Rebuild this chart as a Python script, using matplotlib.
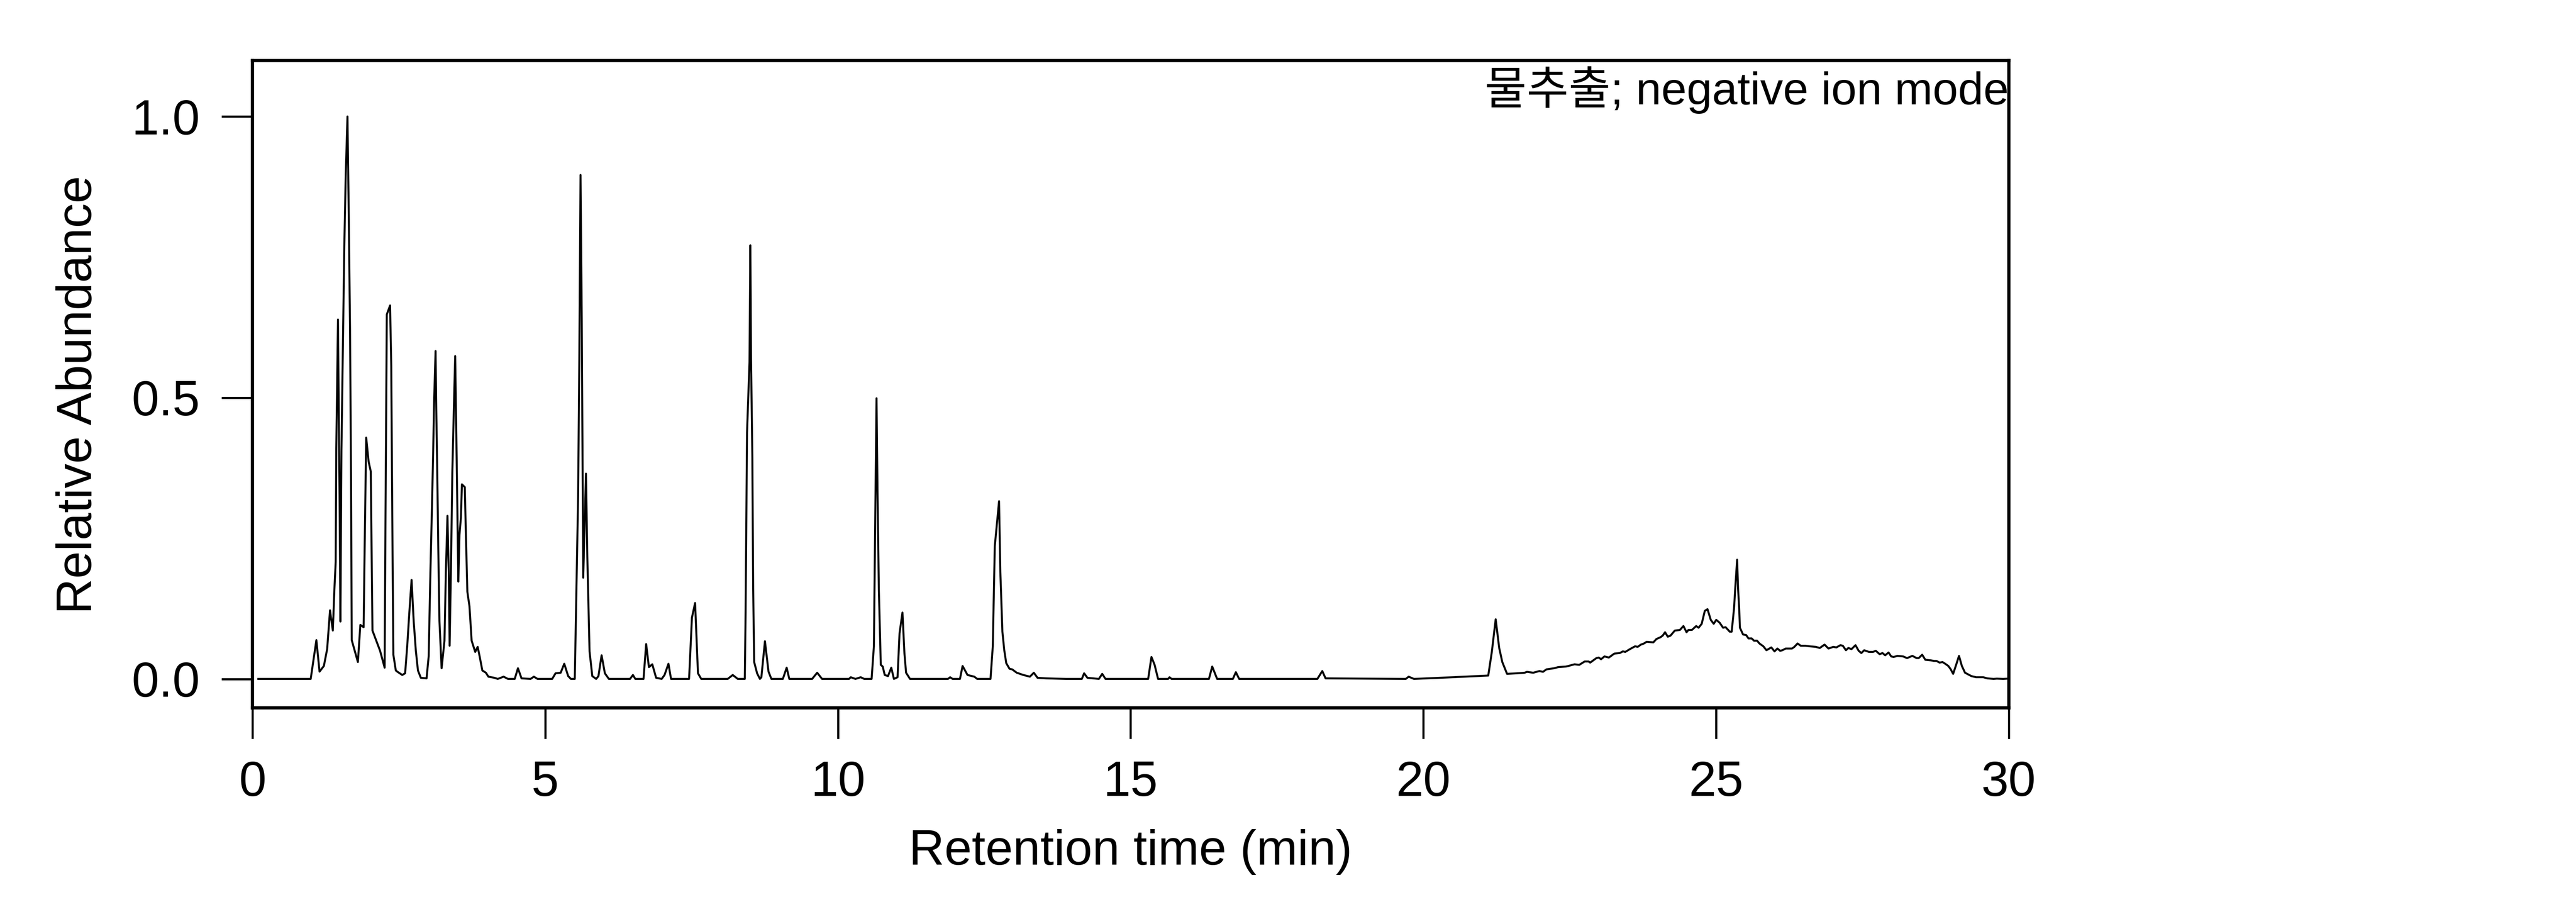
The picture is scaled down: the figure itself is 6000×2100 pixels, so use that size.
import numpy as np
import matplotlib
matplotlib.use("Agg")
import matplotlib.pyplot as plt

plt.rcParams['font.family'] = ['Liberation Sans', 'Noto Sans CJK KR', 'DejaVu Sans']

# retention time (min), relative abundance
trace_0_4 = [
    (0.10, 0.0), (0.995, 0.0), (1.092, 0.069), (1.146, 0.013), (1.22, 0.023),
    (1.276, 0.053), (1.325, 0.122), (1.373, 0.086), (1.40, 0.16), (1.422, 0.208),
    (1.432, 0.408), (1.461, 0.639), (1.479, 0.418), (1.488, 0.326), (1.503, 0.102),
    (1.52, 0.407), (1.545, 0.591), (1.569, 0.769), (1.593, 0.894), (1.623, 1.0),
    (1.642, 0.852), (1.667, 0.622), (1.684, 0.359), (1.696, 0.069), (1.801, 0.030),
    (1.843, 0.096), (1.899, 0.092), (1.916, 0.228), (1.943, 0.429), (1.985, 0.386),
    (2.021, 0.369), (2.05, 0.086), (2.18, 0.050), (2.258, 0.020), (2.273, 0.293),
    (2.295, 0.648), (2.351, 0.664), (2.371, 0.556), (2.393, 0.227), (2.407, 0.043),
    (2.449, 0.015), (2.473, 0.013), (2.559, 0.007), (2.608, 0.010), (2.644, 0.059),
    (2.681, 0.120), (2.718, 0.176), (2.754, 0.103), (2.791, 0.050), (2.827, 0.015),
    (2.876, 0.002), (2.974, 0.001), (3.011, 0.041), (3.035, 0.168), (3.06, 0.278),
    (3.084, 0.388), (3.104, 0.497), (3.128, 0.583), (3.14, 0.479), (3.157, 0.366),
    (3.174, 0.234), (3.194, 0.103), (3.231, 0.019), (3.28, 0.068), (3.304, 0.190),
    (3.331, 0.290), (3.353, 0.190), (3.368, 0.059), (3.39, 0.190), (3.414, 0.366),
    (3.439, 0.475), (3.463, 0.574), (3.48, 0.454), (3.50, 0.300), (3.517, 0.173),
    (3.536, 0.256), (3.561, 0.287), (3.578, 0.346), (3.627, 0.341), (3.646, 0.256),
    (3.671, 0.155), (3.707, 0.129), (3.744, 0.068), (3.805, 0.048), (3.847, 0.057),
    (3.879, 0.041), (3.927, 0.015), (3.988, 0.011),
]

trace_4_10 = [
    (4.03, 0.004), (4.133, 0.002), (4.19, 0.0), (4.29, 0.004), (4.365, 0.0),
    (4.48, 0.0), (4.535, 0.019), (4.596, 0.001), (4.75, 0.0), (4.807, 0.004),
    (4.87, 0.0), (5.12, 0.0), (5.177, 0.010), (5.265, 0.011), (5.326, 0.027),
    (5.393, 0.005), (5.44, 0.0), (5.506, 0.0), (5.563, 0.326), (5.584, 0.58),
    (5.604, 0.896), (5.625, 0.64), (5.65, 0.18), (5.697, 0.365), (5.72, 0.217),
    (5.758, 0.049), (5.805, 0.005), (5.871, 0.0), (5.91, 0.005), (5.964, 0.042),
    (6.02, 0.01), (6.088, 0.0), (6.45, 0.0), (6.499, 0.007), (6.54, 0.0),
    (6.68, 0.0), (6.725, 0.062), (6.772, 0.021), (6.83, 0.026), (6.895, 0.002),
    (6.99, 0.0), (7.039, 0.007), (7.106, 0.027), (7.15, 0.0), (7.458, 0.0),
    (7.507, 0.109), (7.561, 0.135), (7.61, 0.010), (7.666, 0.0), (8.118, 0.0),
    (8.204, 0.007), (8.29, 0.0), (8.41, 0.0), (8.424, 0.122), (8.448, 0.438),
    (8.49, 0.563), (8.505, 0.771), (8.517, 0.569), (8.539, 0.392), (8.553, 0.161),
    (8.57, 0.030), (8.62, 0.010), (8.668, 0.0), (8.693, 0.003), (8.754, 0.067),
    (8.815, 0.013), (8.864, 0.0), (9.06, 0.0), (9.125, 0.020), (9.17, 0.0),
    (9.56, 0.0), (9.646, 0.011), (9.73, 0.0),
]

trace_10_20 = [
    (10.19, 0.0), (10.22, 0.003), (10.30, 0.0), (10.39, 0.003), (10.45, 0.0),
    (10.576, 0.0), (10.615, 0.058), (10.643, 0.328), (10.66, 0.499), (10.677, 0.334),
    (10.70, 0.157), (10.733, 0.025), (10.766, 0.022), (10.80, 0.007), (10.856, 0.005),
    (10.912, 0.020), (10.957, 0.0), (11.019, 0.003), (11.053, 0.081), (11.103, 0.118),
    (11.137, 0.045), (11.165, 0.011), (11.232, 0.0), (11.88, 0.0), (11.917, 0.003),
    (11.96, 0.0), (12.085, 0.0), (12.13, 0.023), (12.214, 0.007), (12.33, 0.004),
    (12.38, 0.0), (12.607, 0.0), (12.646, 0.058), (12.68, 0.236), (12.753, 0.316),
    (12.775, 0.19), (12.81, 0.084), (12.842, 0.051), (12.876, 0.028), (12.932, 0.018),
    (12.977, 0.017), (13.055, 0.011), (13.168, 0.007), (13.28, 0.004), (13.347, 0.011),
    (13.41, 0.002), (13.56, 0.001), (13.897, 0.0), (14.167, 0.0), (14.206, 0.010),
    (14.262, 0.002), (14.458, 0.0), (14.515, 0.009), (14.571, 0.0), (15.30, 0.0),
    (15.356, 0.039), (15.41, 0.025), (15.469, 0.0), (15.64, 0.0), (15.665, 0.003),
    (15.70, 0.0), (16.338, 0.0), (16.394, 0.022), (16.478, 0.0), (16.747, 0.0),
    (16.798, 0.012), (16.854, 0.0), (18.19, 0.0), (18.274, 0.014), (18.33, 0.001),
    (19.70, 0.0), (19.75, 0.004), (19.84, 0.0),
]

trace_20_30 = [
    (20.5, 0.003), (21.109, 0.006), (21.17, 0.048), (21.236, 0.106), (21.296, 0.055),
    (21.349, 0.030), (21.43, 0.009), (21.6, 0.010), (21.73, 0.011), (21.77, 0.0126),
    (21.877, 0.011), (21.983, 0.014), (22.044, 0.0126), (22.103, 0.017), (22.236, 0.019),
    (22.303, 0.021), (22.436, 0.022), (22.476, 0.023), (22.583, 0.026), (22.663, 0.025),
    (22.756, 0.031), (22.823, 0.031), (22.85, 0.029), (22.956, 0.037), (22.996, 0.038),
    (23.036, 0.035), (23.094, 0.040), (23.169, 0.038), (23.262, 0.045), (23.356, 0.046),
    (23.409, 0.049), (23.449, 0.048), (23.529, 0.053), (23.617, 0.058), (23.662, 0.057),
    (23.716, 0.061), (23.769, 0.063), (23.814, 0.066), (23.929, 0.065), (23.982, 0.071),
    (24.049, 0.074), (24.089, 0.077), (24.129, 0.083), (24.176, 0.075), (24.222, 0.077),
    (24.296, 0.086), (24.382, 0.087), (24.443, 0.094), (24.496, 0.083), (24.528, 0.087),
    (24.587, 0.087), (24.661, 0.094), (24.702, 0.091), (24.755, 0.098), (24.808, 0.121),
    (24.854, 0.124), (24.91, 0.105), (24.96, 0.098), (25.003, 0.105), (25.061, 0.100),
    (25.12, 0.091), (25.163, 0.092), (25.234, 0.084), (25.267, 0.084), (25.307, 0.125),
    (25.328, 0.161), (25.36, 0.212), (25.376, 0.161), (25.394, 0.128), (25.408, 0.091),
    (25.461, 0.079), (25.514, 0.078), (25.554, 0.072), (25.608, 0.072), (25.648, 0.068),
    (25.701, 0.068), (25.741, 0.063), (25.808, 0.058), (25.861, 0.051), (25.944, 0.056),
    (25.999, 0.049), (26.048, 0.054), (26.094, 0.050), (26.134, 0.051), (26.189, 0.054),
    (26.297, 0.054), (26.338, 0.057), (26.392, 0.063), (26.446, 0.059), (26.528, 0.059),
    (26.595, 0.058), (26.704, 0.057), (26.772, 0.055), (26.853, 0.061), (26.921, 0.054),
    (27.002, 0.057), (27.056, 0.056), (27.124, 0.060), (27.165, 0.059), (27.219, 0.051),
    (27.26, 0.055), (27.314, 0.053), (27.382, 0.060), (27.436, 0.050), (27.482, 0.046),
    (27.531, 0.051), (27.612, 0.048), (27.68, 0.048), (27.729, 0.050), (27.794, 0.044),
    (27.843, 0.046), (27.889, 0.042), (27.946, 0.047), (27.992, 0.040), (28.033, 0.039),
    (28.10, 0.041), (28.195, 0.040), (28.263, 0.037), (28.353, 0.041), (28.426, 0.037),
    (28.461, 0.037), (28.521, 0.043), (28.575, 0.034), (28.67, 0.033), (28.724, 0.032),
    (28.765, 0.032), (28.819, 0.029), (28.868, 0.030), (28.914, 0.027), (28.968, 0.023),
    (29.009, 0.017), (29.05, 0.009), (29.104, 0.026), (29.15, 0.041), (29.199, 0.023),
    (29.253, 0.011), (29.362, 0.005), (29.443, 0.003), (29.565, 0.003), (29.633, 0.001),
    (29.741, 0.0), (29.796, 0.0005), (29.904, 0.0), (29.985, 0.0005),
]

x_ticks = [0, 5, 10, 15, 20, 25, 30]
y_ticks = [0.0, 0.5, 1.0]
x_label = 'Retention time (min)'
y_label = 'Relative Abundance'
note = '물추출; negative ion mode'

trace = np.array(trace_0_4 + trace_4_10 + trace_10_20 + trace_20_30)
rt = trace[:, 0]
ab = trace[:, 1]

fig = plt.figure(figsize=(20, 7), dpi=300)
ax = fig.add_axes([0.098, 0.2152, 0.6818, 0.7176])
ax.plot(rt, ab, color='black', lw=1.1)

ax.set_xlim(0, 30)
ax.set_ylim(-0.0515, 1.0993)
ax.set_xticks(x_ticks)
ax.set_xticklabels([str(t) for t in x_ticks])
ax.set_yticks(y_ticks)
ax.set_yticklabels(['%.1f' % t for t in y_ticks])

for s in ax.spines.values():
    s.set_linewidth(1.8)
ax.tick_params(direction='out', length=17.3, width=1.2, pad=12,
               labelsize=27.5, top=False, right=False)

ax.set_xlabel(x_label, fontsize=27.5)
ax.set_ylabel(y_label, fontsize=27.5)
ax.xaxis.set_label_coords(0.5, -0.187)
ax.yaxis.set_label_coords(-0.0858, 0.484)

ax.text(1.0, 0.9323, note, transform=ax.transAxes, ha='right', va='baseline',
        fontsize=25.5, family=['Liberation Sans', 'Noto Sans CJK KR'])

fig.savefig('out.png', dpi=300, facecolor='white')
